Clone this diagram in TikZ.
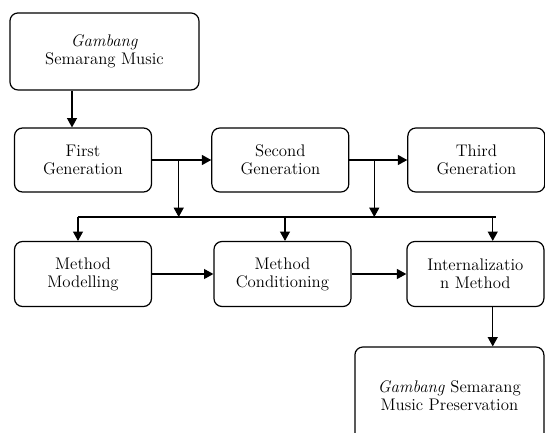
\documentclass[tikz,border=0pt]{standalone}
\usetikzlibrary{arrows.meta,calc}

\tikzset{
    gen/.style={rectangle, rounded corners=6pt, draw, line width=0.9pt,
        minimum width=102.75pt, minimum height=48pt, align=center,
        font=\fontsize{12.6}{13.5}\selectfont},
    bigbox/.style={gen, minimum width=141.75pt, minimum height=57.75pt}
}

\begin{document}
\begin{tikzpicture}[
                            node distance=148pt,
                            >={Triangle[length=7pt,width=7.5pt]},
                            line width=0.8pt
                        ]
                        \useasboundingbox (-62.25pt,-204pt) rectangle (346.5pt,120pt);
                        \clip (-62.25pt,-204pt) rectangle (346.5pt,120pt);
                        % Blocks
                        \node [gen] (first) at (0,0) {First\\Generation};
                        \node [bigbox,node distance=81.4pt,above of=first,xshift=16.1pt] (music) {\textit{Gambang}\\Semarang Music};
                        \node [gen,right of=first] (second) {Second\\Generation};
                        \node [gen,node distance=147pt,right of=second] (third) {Third\\Generation};
                        \node [gen,minimum height=48.75pt,node distance=85.5pt,below of=first] (model) {Method\\Modelling};
                        \node [gen,minimum height=48.75pt,node distance=149.6pt,right of=model] (cond) {Method\\Conditioning};
                        \node [gen,minimum height=48.75pt,node distance=144.7pt,right of=cond] (intern) {Internalizatio\\n Method};
                        \node [bigbox,minimum height=73.5pt,node distance=91.5pt,below of=intern,xshift=-19.5pt] (pres) {\textit{Gambang} Semarang\\Music Preservation};

                        % Helper points
                        \coordinate (fin) at ([xshift=-8.25pt]first.north);
                        \coordinate (b1) at ($(first.east)!0.45!(second.west)$);
                        \coordinate (b2) at ($(second.east)!0.43!(third.west)$);
                        \coordinate (bus) at (0,-42.75pt);
                        \coordinate (dm) at ([xshift=-3.75pt]model.north);
                        \coordinate (dc) at ([xshift=1.9pt]cond.north);
                        \coordinate (di) at ([xshift=13pt]intern.north);
                        \coordinate (be) at ([xshift=2.25pt]di |- bus);

                        % Connections
                        \draw [->] (fin |- music.south) -- (fin);
                        \draw [->] (first) -- (second);
                        \draw [->] (second) -- (third);
                        \draw [->] (b1) -- (b1 |- bus);
                        \draw [->] (b2) -- (b2 |- bus);
                        \draw (dm |- bus) -- (be);
                        \draw [->] (dm |- bus) -- (dm);
                        \draw [->] (dc |- bus) -- (dc);
                        \draw [->] (di |- bus) -- (di);
                        \draw [->] (model) -- (cond);
                        \draw [->] (cond) -- (intern);
                        \draw [->] (di |- intern.south) -- (di |- pres.north);
                    \end{tikzpicture}
\end{document}
